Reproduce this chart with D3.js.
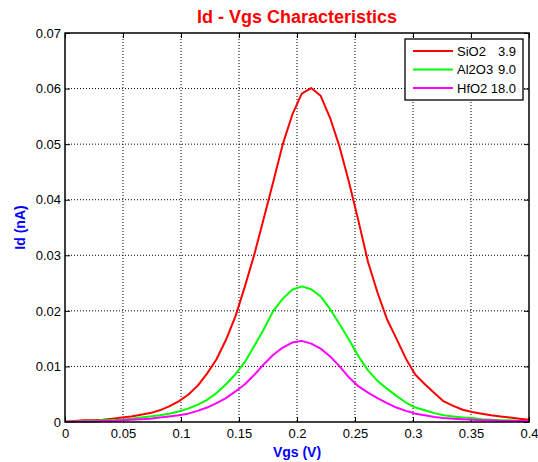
<!DOCTYPE html>
<html>
<head>
<meta charset="utf-8">
<script src="https://cdn.jsdelivr.net/npm/d3@7"></script>
<style>
  body { margin: 0; background: #fff; }
  svg { display: block; font-family: "Liberation Sans", Arial, sans-serif; }
</style>
</head>
<body>
<svg id="chart" width="538" height="462"></svg>
<script>
// Vgs sample count (0 .. 0.4 V, 50 points)
const vgsCount = 50;
const vgsMax = 0.4;

// Id (nA), one value per Vgs sample
const sio2 = [0.0001, 0.0002, 0.0003, 0.0003, 0.0004, 0.0006, 0.0008, 0.0010, 0.0013, 0.0016,
              0.0021, 0.0028, 0.0037, 0.0049, 0.0065, 0.0087, 0.0113, 0.0148, 0.0190, 0.0244,
              0.0302, 0.0367, 0.0433, 0.0500, 0.0553, 0.0591, 0.0601, 0.0587, 0.0547, 0.0495,
              0.0431, 0.0361, 0.0288, 0.0233, 0.0185, 0.0150, 0.0114, 0.0085, 0.0068, 0.0052,
              0.0037, 0.0029, 0.0022, 0.0018, 0.0015, 0.0012, 0.0010, 0.0008, 0.0006, 0.0004];
const al2o3 = [0.0001, 0.0001, 0.0002, 0.0002, 0.0003, 0.0003, 0.0004, 0.0006, 0.0008, 0.0010,
               0.0012, 0.0015, 0.0019, 0.0024, 0.0031, 0.0040, 0.0052, 0.0068, 0.0086, 0.0108,
               0.0137, 0.0167, 0.0200, 0.0222, 0.0238, 0.0244, 0.0239, 0.0226, 0.0203, 0.0176,
               0.0148, 0.0118, 0.0093, 0.0074, 0.0060, 0.0047, 0.0035, 0.0026, 0.0021, 0.0016,
               0.0012, 0.0010, 0.0008, 0.0007, 0.0005, 0.0004, 0.0003, 0.0003, 0.0002, 0.0002];
const hfo2 = [0.0000, 0.0001, 0.0001, 0.0001, 0.0002, 0.0002, 0.0003, 0.0004, 0.0005, 0.0006,
              0.0008, 0.0010, 0.0012, 0.0015, 0.0020, 0.0026, 0.0034, 0.0043, 0.0055, 0.0068,
              0.0085, 0.0104, 0.0121, 0.0134, 0.0143, 0.0146, 0.0141, 0.0132, 0.0118, 0.0100,
              0.0080, 0.0064, 0.0053, 0.0043, 0.0034, 0.0026, 0.0020, 0.0015, 0.0012, 0.0009,
              0.0007, 0.0006, 0.0005, 0.0004, 0.0003, 0.0003, 0.0002, 0.0002, 0.0002, 0.0002];

const seriesNames = ["SiO2", "Al2O3", "HfO2"];
const seriesK = ["3.9", "9.0", "18.0"];
const seriesColors = ["#ff0000", "#00ff00", "#ff00ff"];

const xTicks = [0, 0.05, 0.1, 0.15, 0.2, 0.25, 0.3, 0.35, 0.4];
const yTicks = [0, 0.01, 0.02, 0.03, 0.04, 0.05, 0.06, 0.07];

const margin = {top: 33, right: 9, bottom: 40, left: 65};
const svg = d3.select("#chart");
const width = +svg.attr("width") - margin.left - margin.right;
const height = +svg.attr("height") - margin.top - margin.bottom;

const vgs = d3.range(vgsCount).map(i => i * vgsMax / (vgsCount - 1));
const series = [sio2, al2o3, hfo2].map((vals, k) => ({
    name: seriesNames[k], k: seriesK[k], color: seriesColors[k],
    points: vals.map((v, i) => [vgs[i], v])
}));

const x = d3.scaleLinear().domain([0, 0.4]).range([0, width]);
const y = d3.scaleLinear().domain([0, 0.07]).range([height, 0]);

const g = svg.append("g").attr("transform", `translate(${margin.left},${margin.top})`);

// grid
g.append("g")
    .selectAll("line")
    .data(xTicks.slice(1, -1))
    .join("line")
    .attr("x1", d => x(d)).attr("x2", d => x(d))
    .attr("y1", 0).attr("y2", height)
    .attr("stroke", "#000").attr("stroke-width", 1).attr("stroke-dasharray", "1,2");
g.append("g")
    .selectAll("line")
    .data(yTicks.slice(1, -1))
    .join("line")
    .attr("y1", d => y(d)).attr("y2", d => y(d))
    .attr("x1", 0).attr("x2", width)
    .attr("stroke", "#000").attr("stroke-width", 1).attr("stroke-dasharray", "1,2");

// axes, ticks inside like matlab
const fmt = d => d3.format("~g")(d);
const styleAxis = sel => {
    sel.select(".domain").remove();
    sel.selectAll("text").attr("font-size", 13).attr("font-family", "Liberation Sans, Arial, sans-serif").attr("fill", "#000");
    sel.selectAll("line").attr("stroke", "#000");
};
g.append("g").attr("transform", `translate(0,${height})`)
    .call(d3.axisBottom(x).tickValues(xTicks).tickFormat(fmt).tickSizeInner(-5).tickSizeOuter(0).tickPadding(7))
    .call(styleAxis);
g.append("g")
    .call(d3.axisTop(x).tickValues(xTicks).tickFormat("").tickSizeInner(-5).tickSizeOuter(0))
    .call(styleAxis);
g.append("g")
    .call(d3.axisLeft(y).tickValues(yTicks).tickFormat(fmt).tickSizeInner(-5).tickSizeOuter(0).tickPadding(4))
    .call(styleAxis);
g.append("g").attr("transform", `translate(${width},0)`)
    .call(d3.axisRight(y).tickValues(yTicks).tickFormat("").tickSizeInner(-5).tickSizeOuter(0))
    .call(styleAxis);

// curves
const line = d3.line().x(d => x(d[0])).y(d => y(d[1]));
g.append("g")
    .selectAll("path")
    .data(series)
    .join("path")
    .attr("d", d => line(d.points))
    .attr("fill", "none")
    .attr("stroke", d => d.color)
    .attr("stroke-width", 2)
    .attr("stroke-linejoin", "round");

// frame
g.append("rect")
    .attr("width", width).attr("height", height)
    .attr("fill", "none").attr("stroke", "#000").attr("stroke-width", 1.5);

// legend
const legend = g.append("g").attr("transform", `translate(${width - 124},6)`);
legend.append("rect")
    .attr("width", 118).attr("height", 61)
    .attr("fill", "#fff").attr("stroke", "#000").attr("stroke-width", 1.3);
const item = legend.selectAll("g")
    .data(series)
    .join("g")
    .attr("transform", (d, i) => `translate(0,${12 + i * 18.5})`);
item.append("line")
    .attr("x1", 8).attr("x2", 48)
    .attr("stroke", d => d.color).attr("stroke-width", 2);
item.append("text")
    .attr("x", 52).attr("dy", "0.35em")
    .attr("font-size", 13)
    .text(d => d.name);
item.append("text")
    .attr("x", 111).attr("dy", "0.35em")
    .attr("text-anchor", "end")
    .attr("font-size", 13)
    .text(d => d.k);

// titles
svg.append("text")
    .attr("x", margin.left + width / 2).attr("y", 23)
    .attr("text-anchor", "middle")
    .attr("font-size", 18).attr("font-weight", "bold").attr("fill", "#ff0000")
    .text("Id - Vgs Characteristics");
svg.append("text")
    .attr("x", margin.left + width / 2).attr("y", 457)
    .attr("text-anchor", "middle")
    .attr("font-size", 14).attr("font-weight", "bold").attr("fill", "#0000ff")
    .text("Vgs (V)");
svg.append("text")
    .attr("transform", `translate(25,${margin.top + height / 2}) rotate(-90)`)
    .attr("text-anchor", "middle")
    .attr("font-size", 14).attr("font-weight", "bold").attr("fill", "#0000ff")
    .text("Id (nA)");
</script>
</body>
</html>
